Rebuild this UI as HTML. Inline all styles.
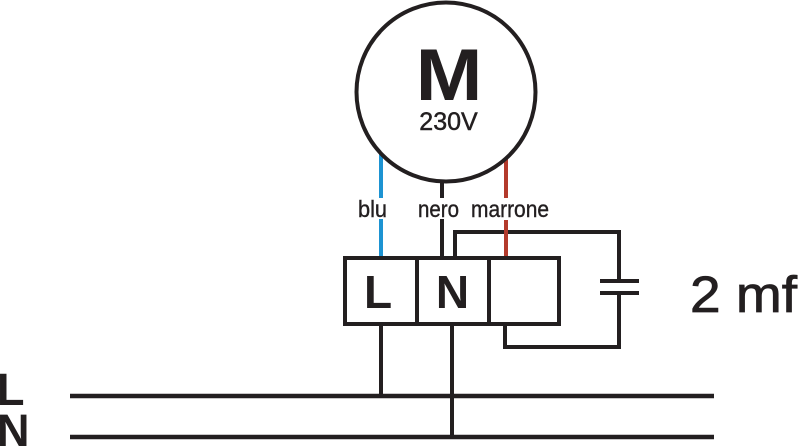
<!DOCTYPE html>
<html>
<head>
<meta charset="utf-8">
<style>
  html, body { margin: 0; padding: 0; background: #ffffff; }
  body { width: 800px; height: 447px; overflow: hidden; }
  svg { display: block; }
  text { font-family: "Liberation Sans", Arial, sans-serif; fill: #231f20; }
</style>
</head>
<body>
<svg width="800" height="447" viewBox="0 0 800 447" xmlns="http://www.w3.org/2000/svg">
  <rect x="0" y="0" width="800" height="447" fill="#ffffff"/>

  <!-- wires from motor -->
  <line x1="381" y1="150" x2="381" y2="198" stroke="#1d93d2" stroke-width="4"/>
  <line x1="381" y1="219" x2="381" y2="258" stroke="#1d93d2" stroke-width="4"/>
  <line x1="442" y1="178" x2="442" y2="198" stroke="#231f20" stroke-width="4"/>
  <line x1="442" y1="219" x2="442" y2="258" stroke="#231f20" stroke-width="4"/>

  <!-- capacitor loop -->
  <polyline points="455,258 455,232 619,232 619,281" fill="none" stroke="#231f20" stroke-width="4"/>
  <line x1="600" y1="281" x2="639" y2="281" stroke="#231f20" stroke-width="4"/>
  <line x1="600" y1="293" x2="639" y2="293" stroke="#231f20" stroke-width="4"/>
  <polyline points="619,293 619,347 505,347 505,324" fill="none" stroke="#231f20" stroke-width="4"/>

  <line x1="506" y1="155" x2="506" y2="198" stroke="#b33a2c" stroke-width="4"/>
  <line x1="506" y1="220" x2="506" y2="258" stroke="#b33a2c" stroke-width="4"/>

  <!-- motor circle -->
  <circle cx="446" cy="92" r="89.5" fill="#ffffff" stroke="#231f20" stroke-width="4"/>
  <text transform="translate(449,100) scale(1.1,1)" text-anchor="middle" font-size="73" font-weight="bold">M</text>
  <text x="448.5" y="130" text-anchor="middle" font-size="25" stroke="#231f20" stroke-width="0.5">230V</text>

  <!-- wire labels -->
  <text x="358" y="217" font-size="23.5" textLength="29" lengthAdjust="spacingAndGlyphs" stroke="#231f20" stroke-width="0.4">blu</text>
  <text x="418" y="217" font-size="23.5" textLength="41" lengthAdjust="spacingAndGlyphs" stroke="#231f20" stroke-width="0.4">nero</text>
  <text x="471" y="217" font-size="23.5" textLength="78" lengthAdjust="spacingAndGlyphs" stroke="#231f20" stroke-width="0.4">marrone</text>

  <!-- terminal block -->
  <rect x="345" y="258" width="214" height="66" fill="#ffffff" stroke="#231f20" stroke-width="4"/>
  <line x1="417" y1="258" x2="417" y2="324" stroke="#231f20" stroke-width="4"/>
  <line x1="489" y1="258" x2="489" y2="324" stroke="#231f20" stroke-width="4"/>
  <text x="378" y="308" text-anchor="middle" font-size="46" font-weight="bold">L</text>
  <text x="452.5" y="308" text-anchor="middle" font-size="46" font-weight="bold">N</text>

  <!-- drops to bus -->
  <line x1="381" y1="324" x2="381" y2="396" stroke="#231f20" stroke-width="4"/>
  <line x1="452" y1="324" x2="452" y2="437" stroke="#231f20" stroke-width="4"/>

  <!-- bus lines -->
  <line x1="70" y1="396" x2="714" y2="396" stroke="#231f20" stroke-width="4.5"/>
  <line x1="70" y1="437" x2="714" y2="437" stroke="#231f20" stroke-width="4.5"/>

  <!-- L / N labels -->
  <text x="-3" y="405" font-size="45" font-weight="bold">L</text>
  <text x="-3" y="446" font-size="45" font-weight="bold">N</text>

  <!-- capacitor label -->
  <text transform="translate(690,312) scale(1.08,1)" font-size="51" stroke="#231f20" stroke-width="0.8">2 mf</text>
</svg>
</body>
</html>
